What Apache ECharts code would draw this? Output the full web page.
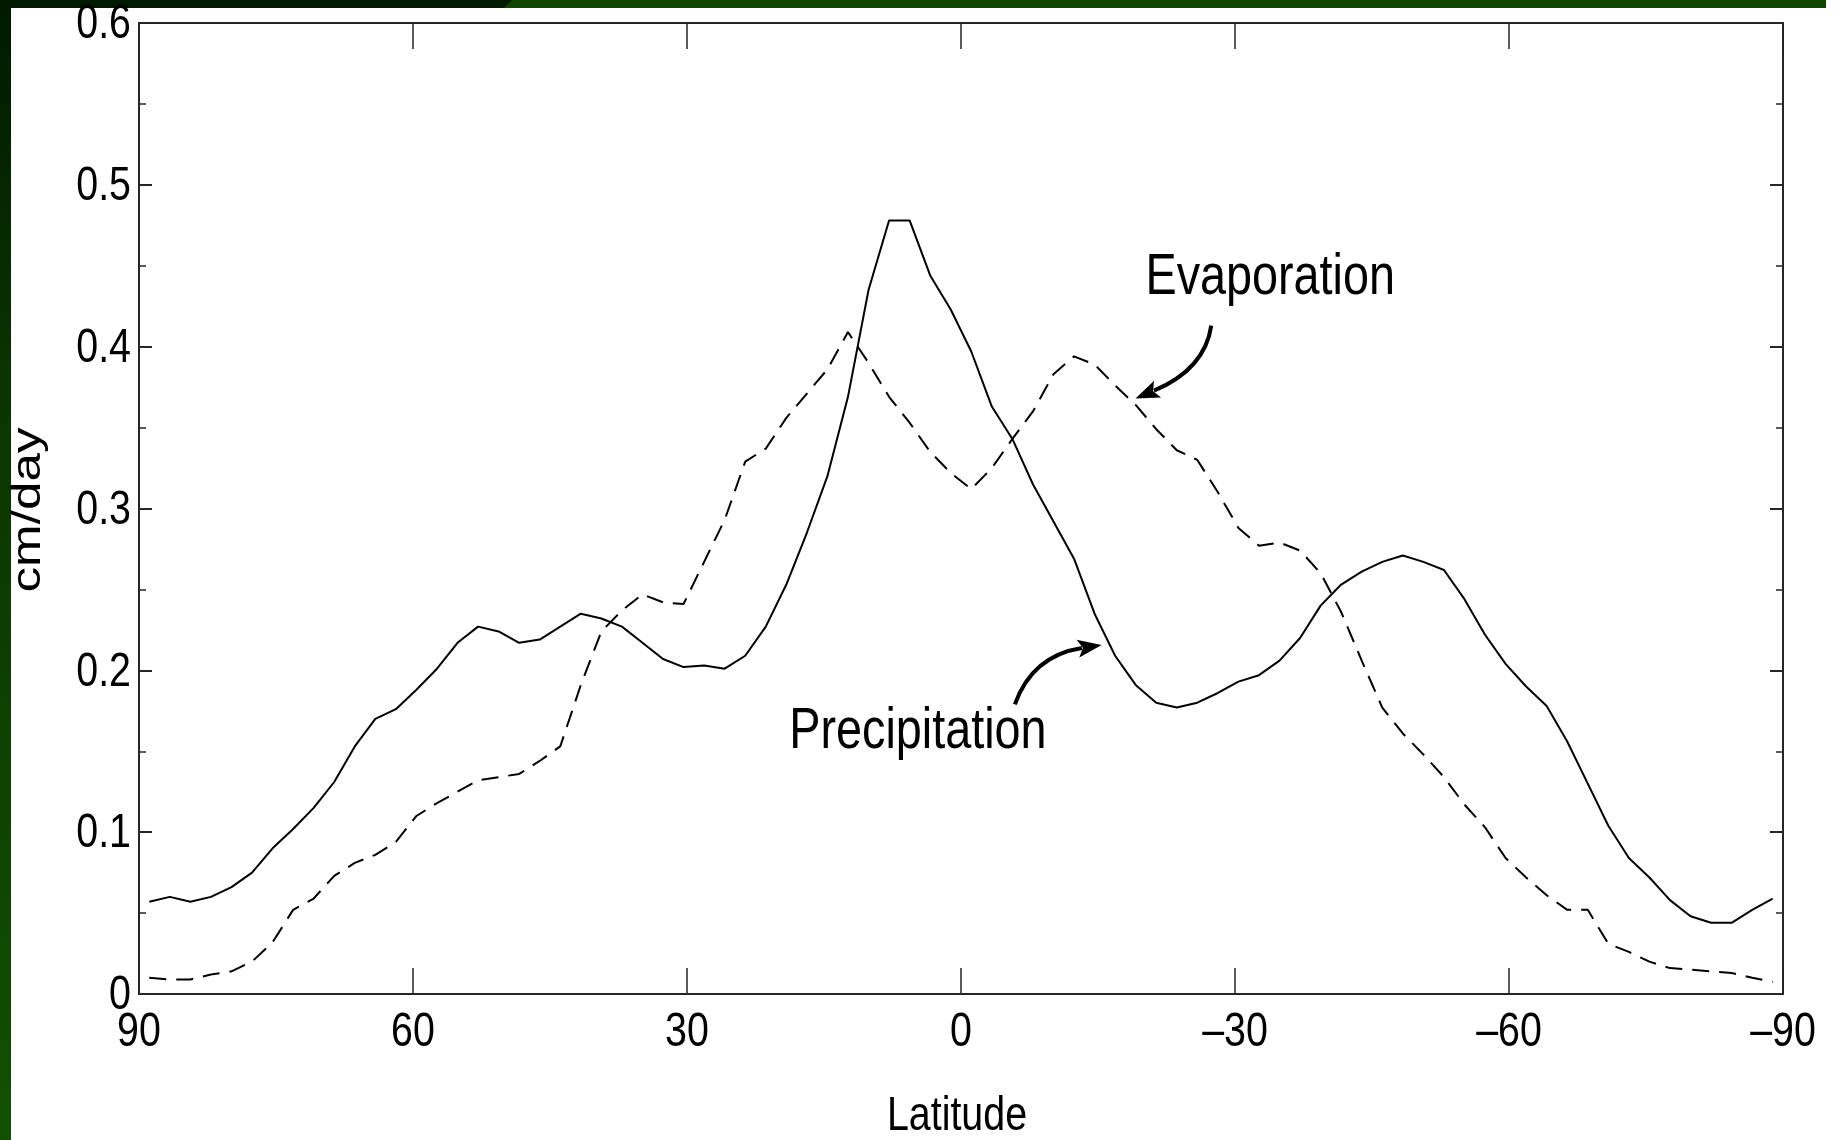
<!DOCTYPE html>
<html>
<head>
<meta charset="utf-8">
<title>Precipitation and evaporation by latitude</title>
<script src="https://cdn.jsdelivr.net/npm/echarts@6/dist/echarts.min.js"></script>
<style>
  html, body { margin: 0; padding: 0; background: #fff; }
  #chart { width: 1835px; height: 1140px; }
</style>
</head>
<body>
<div id="chart"></div>
<script>
// zonal means, cm/day
const latitudes = [
  88.875, 86.625, 84.375, 82.125, 79.875, 77.625, 75.375, 73.125, 70.875, 68.625,
  66.375, 64.125, 61.875, 59.625, 57.375, 55.125, 52.875, 50.625, 48.375, 46.125,
  43.875, 41.625, 39.375, 37.125, 34.875, 32.625, 30.375, 28.125, 25.875, 23.625,
  21.375, 19.125, 16.875, 14.625, 12.375, 10.125, 7.875, 5.625, 3.375, 1.125,
  -1.125, -3.375, -5.625, -7.875, -10.125, -12.375, -14.625, -16.875, -19.125, -21.375,
  -23.625, -25.875, -28.125, -30.375, -32.625, -34.875, -37.125, -39.375, -41.625, -43.875,
  -46.125, -48.375, -50.625, -52.875, -55.125, -57.375, -59.625, -61.875, -64.125, -66.375,
  -68.625, -70.875, -73.125, -75.375, -77.625, -79.875, -82.125, -84.375, -86.625, -88.875
]
const precipitation = [
  0.057, 0.060, 0.057, 0.060, 0.066, 0.075, 0.090, 0.102, 0.115, 0.131,
  0.153, 0.170, 0.176, 0.188, 0.201, 0.217, 0.227, 0.224, 0.217, 0.219,
  0.227, 0.235, 0.232, 0.227, 0.217, 0.207, 0.202, 0.203, 0.201, 0.209,
  0.227, 0.253, 0.285, 0.320, 0.369, 0.435, 0.478, 0.478, 0.444, 0.423,
  0.397, 0.363, 0.343, 0.315, 0.292, 0.269, 0.235, 0.209, 0.191, 0.180,
  0.177, 0.180, 0.186, 0.193, 0.197, 0.206, 0.220, 0.240, 0.253, 0.261,
  0.267, 0.271, 0.267, 0.262, 0.244, 0.222, 0.204, 0.190, 0.178, 0.156,
  0.130, 0.104, 0.084, 0.072, 0.058, 0.048, 0.044, 0.044, 0.052, 0.059
]
const evaporation = [
  0.010, 0.009, 0.009, 0.012, 0.014, 0.020, 0.032, 0.052, 0.059, 0.073,
  0.081, 0.086, 0.094, 0.110, 0.118, 0.125, 0.132, 0.134, 0.136, 0.144,
  0.153, 0.191, 0.224, 0.237, 0.247, 0.242, 0.241, 0.267, 0.293, 0.329,
  0.337, 0.356, 0.371, 0.386, 0.409, 0.390, 0.369, 0.353, 0.335, 0.322,
  0.312, 0.325, 0.343, 0.360, 0.383, 0.394, 0.389, 0.376, 0.364, 0.349,
  0.336, 0.330, 0.310, 0.288, 0.277, 0.279, 0.274, 0.260, 0.236, 0.206,
  0.177, 0.161, 0.148, 0.134, 0.117, 0.103, 0.084, 0.072, 0.061, 0.052,
  0.052, 0.031, 0.026, 0.020, 0.016, 0.015, 0.014, 0.013, 0.010, 0.0075
]
const latTicks = [90, 60, 30, 0, -30, -60, -90]
const valTicks = [0, 0.1, 0.2, 0.3, 0.4, 0.5, 0.6]

// the original figure is squeezed sideways, so text is drawn narrowed
const FONT = '"Liberation Sans", Arial, sans-serif'
const SQUEEZE = 0.82
const AXIS_COLOR = '#262626'

const chart = echarts.init(document.getElementById('chart'), null, { renderer: 'canvas' })

const latLabel = v => v < 0 ? '\u2013' + Math.abs(v) : String(v)
const valLabel = v => v === 0 ? '0' : v.toFixed(1)

const xBase = {
  type: 'value', min: -90, max: 90, interval: 30, inverse: true,
  axisLine: { show: true, onZero: false, lineStyle: { color: AXIS_COLOR, width: 2 } },
  axisTick: { show: true, inside: true, length: 26, lineStyle: { color: AXIS_COLOR, width: 1.5 } },
  axisLabel: { show: false },
  splitLine: { show: false },
}
const yBase = {
  type: 'value', min: 0, max: 0.6, interval: 0.1,
  axisLine: { show: true, onZero: false, lineStyle: { color: AXIS_COLOR, width: 2 } },
  axisTick: { show: true, inside: true, length: 13, lineStyle: { color: AXIS_COLOR, width: 2 } },
  minorTick: { show: true, splitNumber: 2, length: 7, lineStyle: { color: AXIS_COLOR, width: 1.5 } },
  axisLabel: { show: false },
  splitLine: { show: false },
}

chart.setOption({
  animation: false,
  backgroundColor: '#fff',
  grid: { left: 139, right: 52, top: 23, bottom: 146 },
  xAxis: [
    Object.assign({}, xBase, { position: 'bottom' }),
    Object.assign({}, xBase, { position: 'top' }),
  ],
  yAxis: [
    Object.assign({}, yBase, { position: 'left' }),
    Object.assign({}, yBase, { position: 'right' }),
  ],
  series: [
    {
      name: 'Precipitation', type: 'line', xAxisIndex: 0, yAxisIndex: 0,
      data: latitudes.map((lat, i) => [lat, precipitation[i]]),
      showSymbol: false, smooth: false,
      lineStyle: { color: '#000', width: 2 },
    },
    {
      name: 'Evaporation', type: 'line', xAxisIndex: 0, yAxisIndex: 0,
      data: latitudes.map((lat, i) => [lat, evaporation[i]]),
      showSymbol: false, smooth: false,
      lineStyle: { color: '#000', width: 2, type: [17, 10] },
    },
  ],
})

const px = p => chart.convertToPixel({ seriesIndex: 0 }, p)

const text = (str, x, y, size, align, extra) => Object.assign({
  type: 'text', silent: true, x, y, scaleX: SQUEEZE,
  style: { text: str, fontFamily: FONT, fontSize: size, fill: '#000', align, verticalAlign: 'middle' },
}, extra || {})

const graphics = [
  // slide frame
  {
    type: 'rect', silent: true, z: 0,
    shape: { x: 0, y: 0, width: 11, height: 1140 },
    style: { fill: new echarts.graphic.LinearGradient(0, 0, 0, 1, [
      { offset: 0, color: '#001a00' }, { offset: 0.35, color: '#0a3500' }, { offset: 1, color: '#125000' },
    ]) },
  },
  { type: 'rect', silent: true, z: 0, shape: { x: 0, y: 0, width: 1826, height: 8 }, style: { fill: '#124500' } },
  { type: 'polygon', silent: true, z: 0, shape: { points: [[0, 0], [512, 0], [504, 8], [0, 8]] }, style: { fill: '#001a00' } },
  // y axis name, rotated, stretched along its length
  {
    type: 'text', silent: true, x: 29, y: 510, rotation: Math.PI / 2, scaleX: 1.28,
    style: { text: 'cm/day', fontFamily: FONT, fontSize: 40, fill: '#000', align: 'center', verticalAlign: 'middle' },
  },
]

// tick labels placed through the axes
latTicks.forEach(v => {
  const p = px([v, 0])
  graphics.push(text(latLabel(v), p[0], p[1] + 39, 48, 'center'))
})
valTicks.forEach(v => {
  const p = px([90, v])
  graphics.push(text(valLabel(v), p[0] - 8, p[1] + 2, 48, 'right'))
})
const axisMid = px([0, 0])
graphics.push(text('Latitude', axisMid[0] - 4, axisMid[1] + 123, 48, 'center'))

// labels with curved arrows, anchored in data coordinates
const notes = [
  { text: 'Evaporation', label: [-20.2, 0.442], from: [-27.4, 0.413], ctrl: [-26.7, 0.386], to: [-19.1, 0.368] },
  { text: 'Precipitation', label: [18.8, 0.162], from: [-5.9, 0.179], ctrl: [-7.8, 0.209], to: [-15.4, 0.2157] },
]

notes.forEach(n => {
  const l = px(n.label), a = px(n.from), c = px(n.ctrl), b = px(n.to)
  graphics.push(text(n.text, l[0], l[1], 57, 'left'))
  const dx = b[0] - c[0], dy = b[1] - c[1], len = Math.hypot(dx, dy)
  const ux = dx / len, uy = dy / len
  const headLen = 24, headW = 9
  const bx = b[0] - ux * headLen, by = b[1] - uy * headLen
  graphics.push({
    type: 'bezierCurve', silent: true,
    shape: { x1: a[0], y1: a[1], cpx1: c[0], cpy1: c[1], x2: bx + ux * 4, y2: by + uy * 4 },
    style: { stroke: '#000', lineWidth: 4, fill: null },
  })
  graphics.push({
    type: 'polygon', silent: true,
    shape: { points: [[b[0], b[1]], [bx - uy * headW, by + ux * headW], [bx + ux * 5, by + uy * 5], [bx + uy * headW, by - ux * headW]] },
    style: { fill: '#000' },
  })
})

chart.setOption({ graphic: graphics })
</script>
</body>
</html>
